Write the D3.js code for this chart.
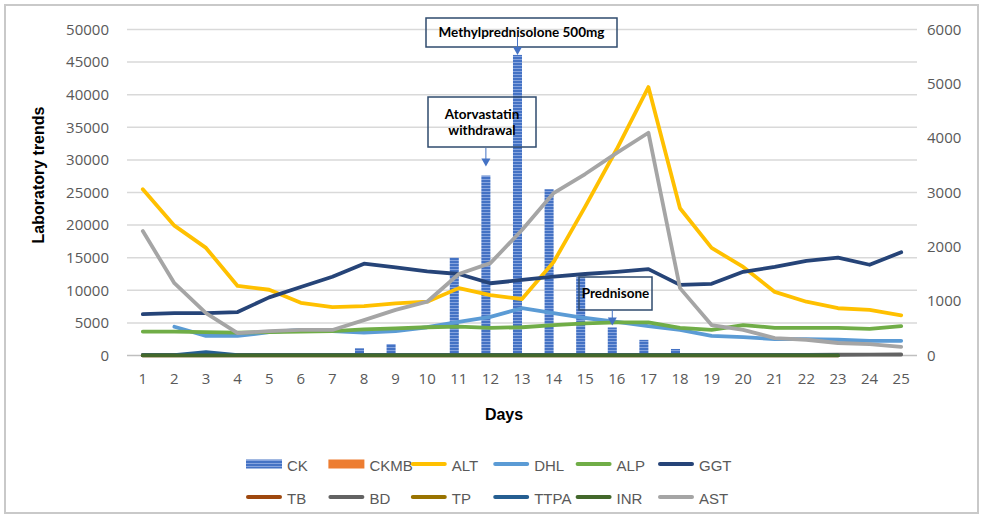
<!DOCTYPE html>
<html>
<head>
<meta charset="utf-8">
<script src="https://cdn.jsdelivr.net/npm/d3@7/dist/d3.min.js"></script>
<style>
  body { margin: 0; background: #fff; }
</style>
</head>
<body>
<div id="vis"></div>
<script>
// categories
const days = ["1","2","3","4","5","6","7","8","9","10","11","12","13","14","15","16","17","18","19","20","21","22","23","24","25"];

// bars (left axis)
const CK   = [0,0,0,0,0,0,0,1100,1760,0,15000,27600,46100,25500,12000,4300,2400,1000,0,0,0,0,0,0,0];
const CKMB = [0,0,0,0,0,0,0,0,0,0,0,0,0,0,0,0,0,0,0,0,0,0,0,0,0];

// lines (right axis)
const ALT  = [3060,2390,1980,1280,1210,970,890,910,960,990,1240,1110,1040,1720,2740,3800,4940,2710,1980,1630,1170,990,870,840,740];
const DHL  = [null,530,360,360,430,470,450,420,450,520,620,710,870,780,690,620,540,470,360,340,300,300,290,270,270];
const ALP  = [440,440,430,420,430,440,450,480,500,520,530,510,520,560,590,610,610,510,470,560,510,510,510,490,540];
const GGT  = [760,780,780,800,1070,1260,1450,1690,1620,1550,1500,1330,1390,1450,1500,1540,1590,1300,1320,1540,1630,1740,1800,1670,1900];
const TB   = [2,2,2,2,2,2,2,2,2,2,2,2,2,2,2,2,2,2,2,2,2,2,2,null,null];
const BD   = [12,12,12,12,12,12,12,12,12,12,12,12,12,12,12,12,12,12,12,12,12,12,14,16,18];
const TP   = [6,6,6,6,6,6,6,6,6,6,6,6,6,6,6,6,6,6,6,6,6,6,6,null,null];
const TTPA = [8,8,60,8,8,8,8,8,8,8,8,8,8,8,8,8,8,8,8,8,8,8,8,null,null];
const INR  = [1.2,1.2,1.3,1.2,1.1,1.1,1.1,1.2,1.2,1.1,1.1,1.2,1.3,1.2,1.2,1.1,1.1,1.1,1.1,1.0,1.0,1.0,1.0,null,null];
const AST  = [2290,1330,780,410,450,470,470,650,840,990,1500,1700,2310,2990,3340,3730,4100,1240,560,470,320,290,230,210,160];

const leftTicks  = [0,5000,10000,15000,20000,25000,30000,35000,40000,45000,50000];
const rightTicks = [0,1000,2000,3000,4000,5000,6000];

// annotations, anchored on the CK bar of a given day
const notes = [
  {day: "13", lines: ["Methylprednisolone 500mg"]},
  {day: "12", lines: ["Atorvastatin", "withdrawal"]},
  {day: "16", lines: ["Prednisone"]}
];

const width = 986, height = 522;
const plotL = 127, plotR = 917, plotT = 29.5, plotB = 355.5;

const svg = d3.select("#vis").append("svg")
    .attr("width", width)
    .attr("height", height)
    .style("font-family", "'Open Sans', sans-serif");

const defs = svg.append("defs");
const pat = defs.append("pattern")
    .attr("id", "ckfill")
    .attr("patternUnits", "userSpaceOnUse")
    .attr("width", 4).attr("height", 3);
pat.append("rect").attr("width", 4).attr("height", 3).attr("fill", "#4472C4");
pat.append("rect").attr("y", 2).attr("width", 4).attr("height", 1).attr("fill", "#86A4DE");

// outer frame
svg.append("rect")
    .attr("x", 5).attr("y", 5)
    .attr("width", 973).attr("height", 508)
    .attr("fill", "none")
    .attr("stroke", "#C9C9C9")
    .attr("stroke-width", 2);

const x = d3.scaleBand().domain(days).range([plotL, plotR])
    .paddingInner(1.5 / 3.5).paddingOuter(0.75 / 3.5);
const xSub = d3.scaleBand().domain(["CK", "CKMB"]).range([0, x.bandwidth()]);
const xc = d => x(d) + x.bandwidth() / 2;

const yL = d3.scaleLinear().domain([0, 50000]).range([plotB, plotT]);
const yR = d3.scaleLinear().domain([0, 6000]).range([plotB, plotT]);

// gridlines
svg.append("g")
  .selectAll("line")
  .data(leftTicks)
  .join("line")
    .attr("x1", plotL).attr("x2", plotR)
    .attr("y1", d => yL(d)).attr("y2", d => yL(d))
    .attr("stroke", d => d === 0 ? "#BFBFBF" : "#D9D9D9")
    .attr("stroke-width", 1.5);

// axes
const tickStyle = g => {
  g.select(".domain").remove();
  g.selectAll("text").attr("fill", "#595959").style("font-size", "15px")
    .style("font-family", "'Open Sans', sans-serif");
};
svg.append("g")
    .attr("transform", `translate(${plotL},0)`)
    .call(d3.axisLeft(yL).tickValues(leftTicks).tickFormat(d3.format("d")).tickSize(0).tickPadding(18))
    .call(tickStyle);
svg.append("g")
    .attr("transform", `translate(${plotR},0)`)
    .call(d3.axisRight(yR).tickValues(rightTicks).tickFormat(d3.format("d")).tickSize(0).tickPadding(10))
    .call(tickStyle);
svg.append("g")
    .attr("transform", `translate(0,${plotB})`)
    .call(d3.axisBottom(x).tickSize(0).tickPadding(18))
    .call(tickStyle);

// axis titles
svg.append("text")
    .attr("transform", `translate(44,175) rotate(-90)`)
    .attr("text-anchor", "middle")
    .style("font-family", "'Liberation Sans', Arial, sans-serif")
    .style("font-weight", "bold")
    .style("font-size", "16px")
    .attr("fill", "#000")
    .text("Laboratory trends");
svg.append("text")
    .attr("x", 504).attr("y", 420)
    .attr("text-anchor", "middle")
    .style("font-family", "'Liberation Sans', Arial, sans-serif")
    .style("font-weight", "bold")
    .style("font-size", "16px")
    .attr("fill", "#000")
    .text("Days");

// bars
const barSeries = [
  {name: "CK", values: CK, fill: "url(#ckfill)"},
  {name: "CKMB", values: CKMB, fill: "#ED7D31"}
];
barSeries.forEach(s => {
  svg.append("g")
    .selectAll("rect")
    .data(days.map((d, i) => ({day: d, v: s.values[i]})).filter(d => d.v > 0))
    .join("rect")
      .attr("x", d => x(d.day) + xSub(s.name))
      .attr("width", xSub.bandwidth())
      .attr("y", d => yL(d.v))
      .attr("height", d => yL(0) - yL(d.v))
      .attr("fill", s.fill);
});

// lines
const lineSeries = [
  {name: "ALT", values: ALT, color: "#FFC000"},
  {name: "DHL", values: DHL, color: "#5B9BD5"},
  {name: "ALP", values: ALP, color: "#70AD47"},
  {name: "GGT", values: GGT, color: "#264478"},
  {name: "TB", values: TB, color: "#9E480E"},
  {name: "BD", values: BD, color: "#636363"},
  {name: "TP", values: TP, color: "#997300"},
  {name: "TTPA", values: TTPA, color: "#255E91"},
  {name: "INR", values: INR, color: "#43682B"},
  {name: "AST", values: AST, color: "#A5A5A5"}
];
const line = d3.line()
    .defined(d => d.v != null)
    .x(d => xc(d.day))
    .y(d => yR(d.v));
svg.append("g")
  .selectAll("path")
  .data(lineSeries)
  .join("path")
    .attr("d", s => line(days.map((d, i) => ({day: d, v: s.values[i]}))))
    .attr("fill", "none")
    .attr("stroke", s => s.color)
    .attr("stroke-width", 3.8)
    .attr("stroke-linejoin", "round")
    .attr("stroke-linecap", "round");

// annotations
const noteBoxes = {
  "13": {x: 426, y: 18, w: 191, h: 29, from: 37},
  "12": {x: 428, y: 97, w: 108, h: 50, from: 148},
  "16": {x: 579, y: 277, w: 73, h: 33, from: 310}
};
const tipGap = {"13": 0, "12": 9, "16": 2};
const ann = svg.append("g");
notes.forEach(n => {
  const b = noteBoxes[n.day];
  const i = days.indexOf(n.day);
  const ax = x(n.day) + xSub("CK") + xSub.bandwidth() / 2;
  const tip = yL(CK[i]) - tipGap[n.day];
  ann.append("rect")
    .attr("x", b.x).attr("y", b.y).attr("width", b.w).attr("height", b.h)
    .attr("fill", "none")
    .attr("stroke", "#2F4B6E")
    .attr("stroke-width", 1.5);
  ann.append("line")
    .attr("x1", ax).attr("x2", ax)
    .attr("y1", b.from).attr("y2", tip - 6)
    .attr("stroke", "#4472C4").attr("stroke-width", 1);
  ann.append("path")
    .attr("d", `M${ax - 4.5},${tip - 8}L${ax + 4.5},${tip - 8}L${ax},${tip}Z`)
    .attr("fill", "#4472C4");
  const cy = b.y + b.h / 2;
  n.lines.forEach((t, k) => {
    ann.append("text")
      .attr("x", b.x + b.w / 2)
      .attr("y", cy + (k - (n.lines.length - 1) / 2) * 16)
      .attr("dy", "0.35em")
      .attr("text-anchor", "middle")
      .style("font-family", "Lato, sans-serif")
      .style("font-weight", "bold")
      .style("font-size", "13.5px")
      .attr("fill", "#000")
      .text(t);
  });
});

// legend
const legendRows = [
  [{name: "CK", type: "bar", color: "url(#ckfill)"},
   {name: "CKMB", type: "bar", color: "#ED7D31"},
   {name: "ALT"}, {name: "DHL"}, {name: "ALP"}, {name: "GGT"}],
  [{name: "TB"}, {name: "BD"}, {name: "TP"}, {name: "TTPA"}, {name: "INR"}, {name: "AST"}]
];
const colorOf = name => (lineSeries.find(s => s.name === name) || {}).color;
const legend = svg.append("g");
legendRows.forEach((row, r) => {
  const cy = 464 + r * 33;
  const items = legend.selectAll(null)
    .data(row)
    .join("g")
      .attr("transform", (d, i) => `translate(${246 + i * 82.4},${cy})`);
  items.filter(d => d.type === "bar").append("rect")
    .attr("x", 0).attr("y", -4.5).attr("width", 36).attr("height", 9)
    .attr("fill", d => d.color);
  items.filter(d => d.type !== "bar").append("line")
    .attr("x1", 2).attr("x2", 34)
    .attr("stroke", d => colorOf(d.name))
    .attr("stroke-width", 4)
    .attr("stroke-linecap", "round");
  items.append("text")
    .attr("x", 41).attr("y", 2)
    .attr("dy", "0.35em")
    .style("font-family", "'Liberation Sans', Arial, sans-serif")
    .style("font-size", "15px")
    .attr("fill", "#595959")
    .text(d => d.name);
});
</script>
</body>
</html>
